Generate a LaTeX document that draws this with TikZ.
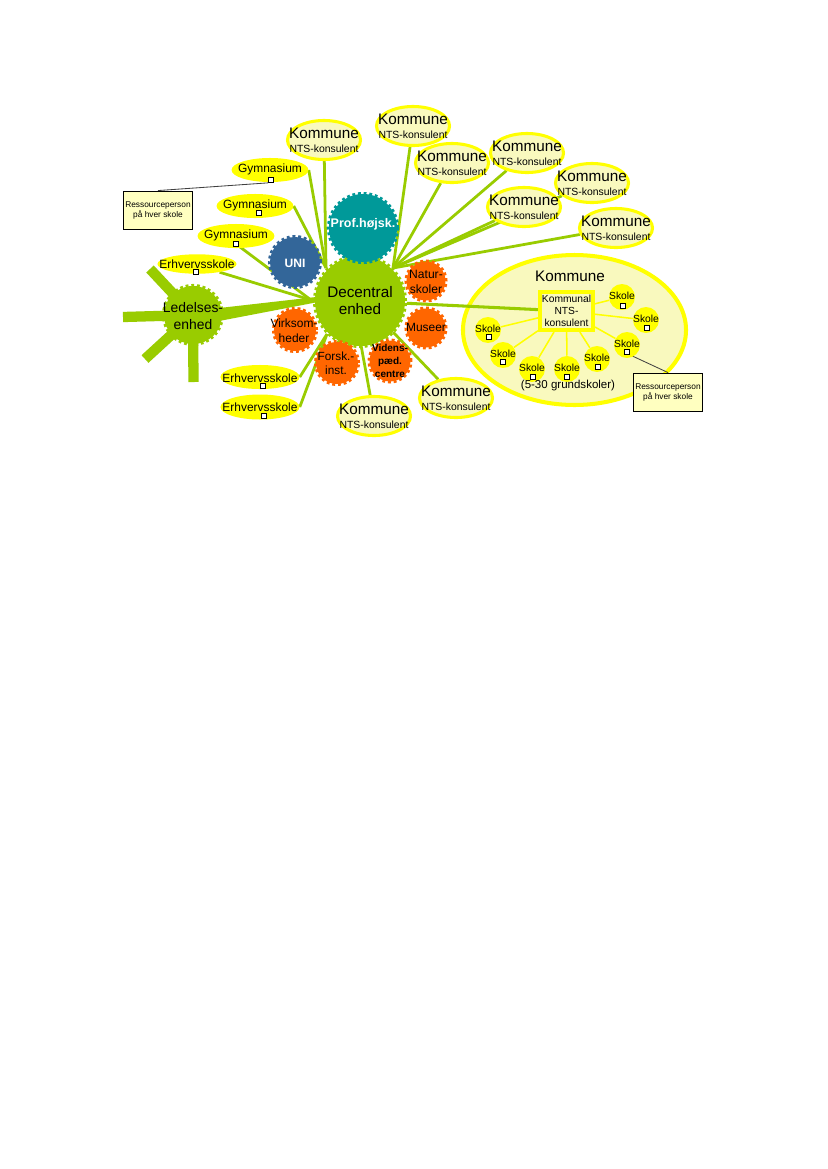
\documentclass[tikz,border=0pt]{standalone}
\usepackage{fontspec}
\setmainfont{Liberation Sans}
\usetikzlibrary{shapes.geometric,calc}
\definecolor{dgreen}{HTML}{99CC00}
\definecolor{dyellow}{HTML}{FFFF00}
\definecolor{kpale}{HTML}{F9F9BE}
\definecolor{boxfill}{HTML}{FFFFC0}
\definecolor{dteal}{HTML}{009999}
\definecolor{dblue}{HTML}{336699}
\definecolor{dorange}{HTML}{FF6600}
\pgfdeclarelayer{bg}
\pgfdeclarelayer{lines}
\pgfsetlayers{bg,lines,main}
\begin{document}
\begin{tikzpicture}[x=0.72pt,y=-0.72pt,
  kell/.style={ellipse, draw=dyellow, line width=2.2pt, fill=kpale, minimum width=52.6pt, minimum height=28.1pt, inner sep=0pt},
  ktext/.style={align=center, inner sep=0pt, font=\fontsize{7.5}{10}\selectfont},
  yell/.style={ellipse, fill=dyellow, inner sep=0pt, minimum width=55.4pt, minimum height=17.3pt},
  ytext/.style={inner sep=0pt, font=\fontsize{8.6}{10}\selectfont},
  sq/.style={rectangle, draw=black, fill=white, line width=0.5pt, minimum size=3.6pt, inner sep=0pt},
  gear/.style={circle, fill=#1, draw=#1, line width=2.9pt, dash pattern=on 2pt off 2pt, inner sep=0pt},
  gtext/.style={align=center, inner sep=0pt},
  conn/.style={draw=dgreen, line width=2pt},
  spoke/.style={draw=dgreen, line width=7.4pt},
  skole/.style={circle, fill=dyellow, minimum size=18.7pt, inner sep=0pt},
  stext/.style={inner sep=0pt, font=\fontsize{7.4}{8}\selectfont},
  rbox/.style={rectangle, draw=black, line width=0.6pt, fill=boxfill, minimum width=49.7pt, minimum height=27.4pt, inner sep=0pt, align=center, font=\fontsize{6}{7.2}\selectfont},
  thin/.style={draw=black!75, line width=0.6pt},
  yline/.style={draw=dyellow, line width=1.1pt}
]
\useasboundingbox (0,0) rectangle (827,1169);

% ---------- background and big Kommune ellipse (bottom layer)
\begin{pgfonlayer}{bg}
\fill[white] (0,0) rectangle (827,1169);
\node[ellipse, draw=dyellow, line width=2.9pt, fill=kpale, minimum width=160.6pt, minimum height=108pt, inner sep=0pt] (bigk) at (574.5,330) {};
\end{pgfonlayer}
\node[inner sep=0pt, font=\fontsize{11}{12}\selectfont] (bigkt) at (570,276) {Kommune};

% ---------- gears
\node[gear=dgreen, minimum size=64.8pt] (dec) at (360,301) {};
\node[gtext, font=\fontsize{11}{12.2}\selectfont] (dect) at (360,301) {Decentral\\enhed};
\node[gear=dgreen, minimum size=41.8pt] (led) at (193,315) {};
\node[gtext, font=\fontsize{10}{12.8}\selectfont] (ledt) at (193,316) {Ledelses-\\enhed};
\node[gear=dblue, minimum size=36pt] (uni) at (295,262) {};
\node[gtext, text=white, font=\fontsize{8.7}{10}\selectfont\bfseries] (unit) at (295,263) {UNI};
\node[gear=dteal, minimum size=49pt] (prof) at (363,228) {};
\node[gtext, text=white, font=\fontsize{9}{10}\selectfont\bfseries] (proft) at (363,224) {Prof.højsk.};
\node[gear=dorange, minimum size=28.1pt] (natur) at (426,281) {};
\node[gtext, font=\fontsize{8.7}{10.8}\selectfont] (naturt) at (426,282) {Natur-\\skoler};
\node[gear=dorange, minimum size=28.1pt] (museer) at (426,328) {};
\node[gtext, font=\fontsize{8.6}{10}\selectfont] (museert) at (426,327) {Museer};
\node[gear=dorange, minimum size=29.5pt] (videns) at (390,361) {};
\node[gtext, font=\fontsize{7.2}{9.4}\selectfont\bfseries] (videnst) at (390,361) {Videns-\\pæd.\\centre};
\node[gear=dorange, minimum size=30.3pt] (forsk) at (337,363) {};
\node[gtext, font=\fontsize{8.5}{10}\selectfont] (forskt) at (336,363) {Forsk.-\\inst.};
\node[gear=dorange, minimum size=30.3pt] (virk) at (295,330) {};
\node[gtext, font=\fontsize{8.6}{10.8}\selectfont] (virkt) at (294,331) {Virksom-\\heder};

% ---------- Kommune ellipses
\foreach \n/\x/\y in {1/324/140, 2/413/126, 3/452/163, 4/527/153, 5/592/183, 6/524/207, 7/616/228, 8/456/398, 9/374/416} {
  \node[kell] (k\n) at (\x,\y) {};
  \node[ktext] (k\n t) at (\x,\y) {{\fontsize{11}{10}\selectfont Kommune}\\NTS-konsulent};
}

% ---------- Gymnasium / Erhvervsskole
\node[yell] (g1) at (270,170) {};
\node[ytext] (g1t) at (270,169) {Gymnasium};
\node[sq] (gq1) at (271,180) {};
\node[yell] (g2) at (255,206) {};
\node[ytext] (g2t) at (255,205) {Gymnasium};
\node[sq] (gq2) at (259,213) {};
\node[yell] (g3) at (236,236) {};
\node[ytext] (g3t) at (236,235) {Gymnasium};
\node[sq] (gq3) at (236,244) {};
\node[yell, minimum width=56.9pt, minimum height=14pt] (e1) at (197,264) {};
\node[ytext] (e1t) at (197,264) {Erhvervsskole};
\node[sq] (eq1) at (196,272) {};
\node[yell, minimum width=56.9pt] (e2) at (260,377) {};
\node[ytext] (e2t) at (260,378) {Erhvervsskole};
\node[sq] (eq2) at (263,386) {};
\node[yell, minimum width=56.9pt, minimum height=18pt] (e3) at (260,407) {};
\node[ytext] (e3t) at (260,407) {Erhvervsskole};
\node[sq] (eq3) at (264,416) {};

% ---------- Kommunal box and schools
\node[rectangle, draw=dyellow, line width=2.9pt, fill=kpale, minimum width=38.2pt, minimum height=27.4pt, inner sep=0pt, align=center, font=\fontsize{7.4}{8.6}\selectfont] (kbox) at (566.5,311) {Kommunal\\NTS-\\konsulent};
\foreach \n/\x/\y/\qx/\qy in {1/488/329/489/337, 2/503/354/503/362, 3/532/368/533/377, 4/567/368/567/377, 5/597/358/598/367, 6/627/344/627/352, 7/646/319/647/328, 8/622/296/623/306} {
  \node[skole] (s\n) at (\x,\y+1) {};
  \node[stext] (s\n t) at (\x,\y) {Skole};
  \node[sq] (q\n) at (\qx,\qy) {};
}
\node[inner sep=0pt, font=\fontsize{8.3}{10}\selectfont] (grund) at (568,386) {(5-30 grundskoler)};

% ---------- Ressourceperson boxes
\node[rbox] (rl) at (158,210) {Ressourceperson\\på hver skole};
\node[rbox] (rr) at (668,392) {Ressourceperson\\på hver skole};

% ---------- hub points on the Decentral gear
\coordinate (hubNW) at (326,268);
\coordinate (hubNE) at (393,268);
\coordinate (hubW) at (311,300);
\coordinate (hubSW) at (327,334);
\coordinate (hubS) at (361,345);
\coordinate (hubSE) at (393,332);
\coordinate (sp1) at (150,269);
\coordinate (sp2) at (123,317);
\coordinate (sp3) at (145,359);
\coordinate (sp4) at (193.5,382);

% ---------- connectors
\begin{pgfonlayer}{lines}
\foreach \n in {2,3,4,5,6,7} { \draw[conn] (k\n) -- (hubNE); }
\draw[conn] (k1) -- (hubNW);
\draw[conn] (g1.east) -- (hubNW);
\draw[conn] (g2.east) -- (hubNW);
\draw[conn] (gq3) -- (hubW);
\draw[conn] (e1.-20) -- (hubW);
\draw[conn] (e2.east) -- (hubSW);
\draw[conn] (e3.east) -- (hubSW);
\draw[conn] (k9) -- (hubS);
\draw[conn] (k8) -- (hubSE);
\draw[conn, line width=2.2pt] (dec) -- (kbox);
\foreach \n in {1,...,8} { \draw[yline] (kbox) -- (s\n); }
\draw[thin] (gq1.south west) -- (rl.north);
\draw[thin] (q6.south east) -- (rr.north);
\foreach \p in {sp1,sp2,sp3,sp4} { \draw[spoke] (led.center) -- (\p); }
\fill[dgreen] ($(led.center)+(0,-4)$) -- ($(dec.center)+(0,-9)$) -- ($(dec.center)+(0,-7)$) -- ($(led.center)+(0,11)$) -- cycle;
\end{pgfonlayer}
\end{tikzpicture}
\end{document}
